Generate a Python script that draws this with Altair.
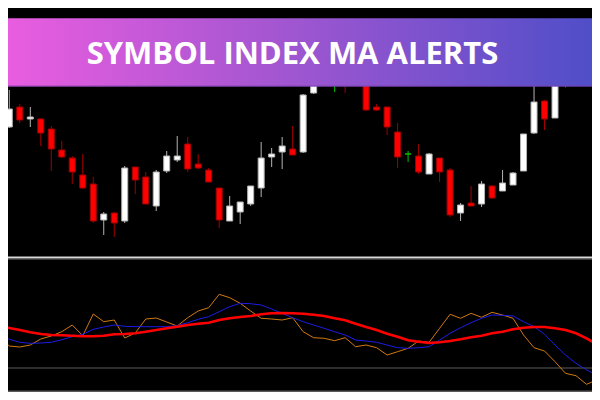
import altair as alt
import pandas as pd

TITLE = "SYMBOL INDEX MA ALERTS"
FIRST_BAR = "2023-12-22 09:53"   # time of candle 0 (1-minute bars)
FIRST_LINE = "2023-12-22 09:52"  # first indicator point (one bar before)

# candle prices (index points) for bars 0..55
opens  = [123,143,131,131,121,100,92,75,66,30,37,29,83,73,44,79,90,106,86,80,
          62,29,38,46,62,93,98,101,98,157,176,170,185,169,172,143,143,118,96,94,
          76,92,80,37,47,46,64,59,65,79,117,149,132,190,172,186]
highs  = [160,146,143,132,124,109,94,96,73,38,38,84,83,78,80,99,114,113,96,82,
          62,54,48,64,108,102,113,124,156,180,190,178,190,182,178,146,143,127,99,106,
          97,92,82,47,64,69,65,80,78,116,168,150,180,195,190,192]
lows   = [122,127,123,104,79,92,66,61,27,15,13,27,56,46,39,77,88,78,81,68,
          22,29,26,44,53,83,81,95,97,156,170,158,157,165,139,139,115,82,88,76,
          76,68,33,29,44,43,51,59,65,79,116,120,132,162,168,170]
closes = [141,130,133,117,101,93,78,62,29,36,27,82,70,46,78,94,94,81,82,68,
          30,44,48,64,92,96,104,95,155,176,186,170,168,173,140,140,123,93,96,78,
          96,78,35,45,44,66,52,67,77,116,148,131,175,172,185,176]

# indicator lines, one value per bar from bar -1 to bar 56
fast_ma = [64.0,54.0,53.0,55.0,61.0,64.0,68.3,75.0,64.3,86.0,78.3,80.0,62.0,67.0,81.0,82.0,
           78.0,74.0,82.3,89.0,92.3,105.7,102.3,96.7,89.0,81.7,81.0,80.0,82.3,68.3,62.3,61.7,
           59.3,62.3,53.3,55.0,52.3,45.0,48.3,51.7,59.0,57.7,71.7,85.7,81.7,86.7,82.7,87.7,
           85.0,81.7,65.0,52.3,49.0,38.3,26.7,24.3,15.7,20.0]
mid_ma  = [66,60.7,57.7,56.7,57,57.7,60.3,63.3,65.7,70.7,73,75,73.7,73.3,73.3,73.3,
           73.3,74.3,77.3,80.7,83.3,88.3,93.3,96.7,96.3,95,91,86.7,82.3,78.3,75,71.7,
           68.3,65,60,59,57.7,55,52.3,51.7,52.3,53.3,60,66.7,72.3,77.3,81.7,85,
           84.7,84,78.3,73.3,65.7,55,45,36.7,30,25]
slow_ma = [74,72,70,67.7,66,65,64.7,64.3,63.7,63.7,64.3,65.7,66,66.7,68.3,70,
           71.7,73.3,75,76.3,77.3,80,81.7,83,84,85.7,86.7,87,86.7,86.3,85.3,84,
           81.7,79.7,76.3,73,70,66.3,63.3,59.7,58.3,57,57.7,59,60.7,62.7,64.3,66.7,
           68.3,70.7,72.3,73,73,71.7,70,66.7,61.7,55.7]
LEVEL = 32

TICK_TIMES = [(9, 50), (9, 58), (10, 6), (10, 14), (10, 22), (10, 30), (10, 38), (10, 46)]

# ---------------------------------------------------------------- tables
t0 = pd.Timestamp(FIRST_BAR)
candles = pd.DataFrame({
    "t": [(t0 + pd.Timedelta(minutes=i)).strftime("%Y-%m-%dT%H:%M:%S") for i in range(len(opens))],
    "o": opens, "h": highs, "l": lows, "c": closes,
})
candles["dir"] = ["doji" if o == c else ("up" if c > o else "down") for o, c in zip(opens, closes)]

t1 = pd.Timestamp(FIRST_LINE)
line_t = [(t1 + pd.Timedelta(minutes=i)).strftime("%Y-%m-%dT%H:%M:%S") for i in range(len(fast_ma))]
lines = pd.DataFrame({"t": line_t, "fast": fast_ma, "mid": mid_ma, "slow": slow_ma})


def dt(h, m):
    return alt.DateTime(year=2023, month=12, date=22, hours=h, minutes=m)


xscale = alt.Scale(domain=[dt(9, 52), dt(10, 49)], range=[-14.2, 594], nice=False)
xaxis = alt.Axis(values=[dt(h, m) for h, m in TICK_TIMES], format="%d %b %H:%M",
                 labelAlign="left", labelColor="#c8c8c8", labelFont="DejaVu Sans",
                 labelFontSize=9, labelPadding=1, tickColor="#d0d0d0", tickSize=3,
                 domainColor="#5a5a5a", domainWidth=2, offset=-1, grid=False,
                 labelFlush=False, labelOverlap=False, title=None)
X = alt.X("t:T", scale=xscale, axis=xaxis, title=None)

pscale = alt.Scale(domain=[0, 242], range=[242, 0], nice=False, zero=False)
iscale = alt.Scale(domain=[0, 150], range=[392, 242], nice=False, zero=False)

fill_scale = alt.Scale(domain=["up", "down", "doji"], range=["#ffffff", "#ff0000", "#00c000"])
edge_scale = alt.Scale(domain=["up", "down", "doji"], range=["#b4b4b4", "#a00000", "#00c000"])

base_c = alt.Chart(candles)
wicks = base_c.mark_rule(strokeWidth=1).encode(
    x=X,
    y=alt.Y("l:Q", scale=pscale, axis=None),
    y2="h:Q",
    color=alt.Color("dir:N", scale=edge_scale, legend=None),
)
bodies = base_c.mark_bar(size=6, strokeWidth=1).encode(
    x=X,
    y=alt.Y("o:Q", scale=pscale, axis=None),
    y2="c:Q",
    fill=alt.Fill("dir:N", scale=fill_scale, legend=None),
    stroke=alt.Stroke("dir:N", scale=edge_scale, legend=None),
)
price = alt.layer(wicks, bodies)

base_l = alt.Chart(lines)
level = alt.Chart(alt.Data(values=[{"v": LEVEL}])).mark_rule(color="#2e2e2e", strokeWidth=2).encode(
    y=alt.Y("v:Q", scale=iscale, axis=None)
)
fast = base_l.mark_line(color="#d27a12", strokeWidth=1, clip=True).encode(
    x=X, y=alt.Y("fast:Q", scale=iscale, axis=None))
mid = base_l.mark_line(color="#1c1ce8", strokeWidth=1, clip=True).encode(
    x=X, y=alt.Y("mid:Q", scale=iscale, axis=None))
slow = base_l.mark_line(color="#ff0000", strokeWidth=2.6, clip=True).encode(
    x=X, y=alt.Y("slow:Q", scale=iscale, axis=None))
indicator = alt.layer(level, fast, mid, slow)

one = alt.Data(values=[{"k": 1}])
separator = alt.Chart(one).mark_rule(color="#d8d8d8", strokeWidth=2).encode(y=alt.value(249.5))
separator2 = alt.Chart(one).mark_rule(color="#3a3a3a", strokeWidth=1).encode(y=alt.value(251.5))

gradient = alt.LinearGradient(
    gradient="linear",
    stops=[alt.GradientStop(color="#ea5de0", offset=0),
           alt.GradientStop(color="#a556d1", offset=0.45),
           alt.GradientStop(color="#4e4ec8", offset=1)],
    x1=0, x2=1, y1=0, y2=0,
)
banner = alt.Chart(one).mark_rect(color=gradient).encode(
    x=alt.value(-2), x2=alt.value(590), y=alt.value(10.3), y2=alt.value(78.5)
)
banner_edge = alt.Chart(one).mark_rule(color="#7a3fae", strokeWidth=1, opacity=0.8).encode(
    y=alt.value(78)
)
title = alt.Chart(one).mark_text(
    text=TITLE, color="#ffffff", font="Open Sans", fontWeight="bold", fontSize=31,
    align="center", baseline="middle",
).encode(x=alt.value(284.5), y=alt.value(46.5))

chart = alt.layer(
    alt.layer(price, indicator).resolve_scale(y="independent"),
    separator, separator2, banner, banner_edge, title,
).properties(width=584, height=384, background="#000000", padding=0, autosize="none"
).configure_view(stroke=None)

chart.save("out.html", embed_options={"renderer": "svg", "actions": False})
